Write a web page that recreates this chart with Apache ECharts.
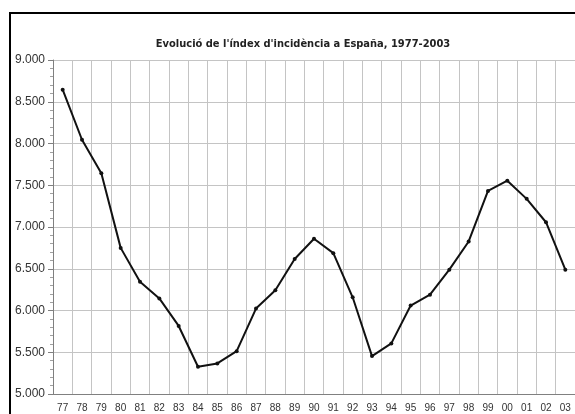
<!DOCTYPE html>
<html>
<head>
<meta charset="utf-8">
<script src="https://cdn.jsdelivr.net/npm/echarts@6/dist/echarts.min.js"></script>
<style>
html,body{margin:0;padding:0;background:#fff;overflow:hidden;}
#chart{width:575px;height:414px;}
</style>
</head>
<body>
<div id="chart"></div>
<script>
const titleText = "Evolució de l'índex d'incidència a España, 1977-2003";
const years = ['77','78','79','80','81','82','83','84','85','86','87','88','89','90','91','92','93','94','95','96','97','98','99','00','01','02','03'];
const values = [8645,8045,7645,6750,6345,6145,5815,5326,5366,5513,6023,6242,6616,6859,6687,6158,5454,5606,6059,6190,6489,6827,7432,7555,7337,7057,6489];
const yMin = 5000, yMax = 9000, yStep = 500;

const chart = echarts.init(document.getElementById('chart'), null, {renderer:'canvas'});
chart.setOption({
  animation:false,
  backgroundColor:'#fff',
  title:{
    text:titleText,
    left:298, top:34, textAlign:'center',
    textStyle:{fontFamily:"'DejaVu Sans Condensed', 'Liberation Sans Narrow', sans-serif", fontWeight:'bold', fontSize:11, color:'#222'}
  },
  graphic:[{
    type:'rect', silent:true, z:100,
    shape:{x:10, y:13, width:700, height:600},
    style:{fill:null, stroke:'#000', lineWidth:2}
  }],
  grid:{left:53, right:-7, top:60, bottom:20, containLabel:false},
  xAxis:{
    type:'category', data:years, boundaryGap:true,
    axisLine:{lineStyle:{color:'#808080', width:1}},
    axisTick:{show:false},
    axisLabel:{interval:0, margin:9, fontFamily:'Liberation Sans', fontSize:10, color:'#333'},
    splitLine:{show:true, interval:0, lineStyle:{color:'#c4c4c4', width:1}}
  },
  yAxis:{
    type:'value', min:yMin, max:yMax, interval:yStep,
    axisLine:{show:true, lineStyle:{color:'#808080', width:1}},
    axisTick:{show:true, inside:false, length:5, lineStyle:{color:'#808080'}},
    minorTick:{show:true, splitNumber:5, length:3, lineStyle:{color:'#a0a0a0'}},
    axisLabel:{margin:8, fontFamily:'Liberation Sans', fontSize:12, color:'#333',
      formatter:v=>v.toLocaleString('de-DE')},
    splitLine:{show:true, lineStyle:{color:'#c4c4c4', width:1}}
  },
  series:[{
    type:'line', data:values,
    lineStyle:{color:'#111', width:2},
    itemStyle:{color:'#111'},
    symbol:'circle', symbolSize:4, showSymbol:true
  }]
});
</script>
</body>
</html>
